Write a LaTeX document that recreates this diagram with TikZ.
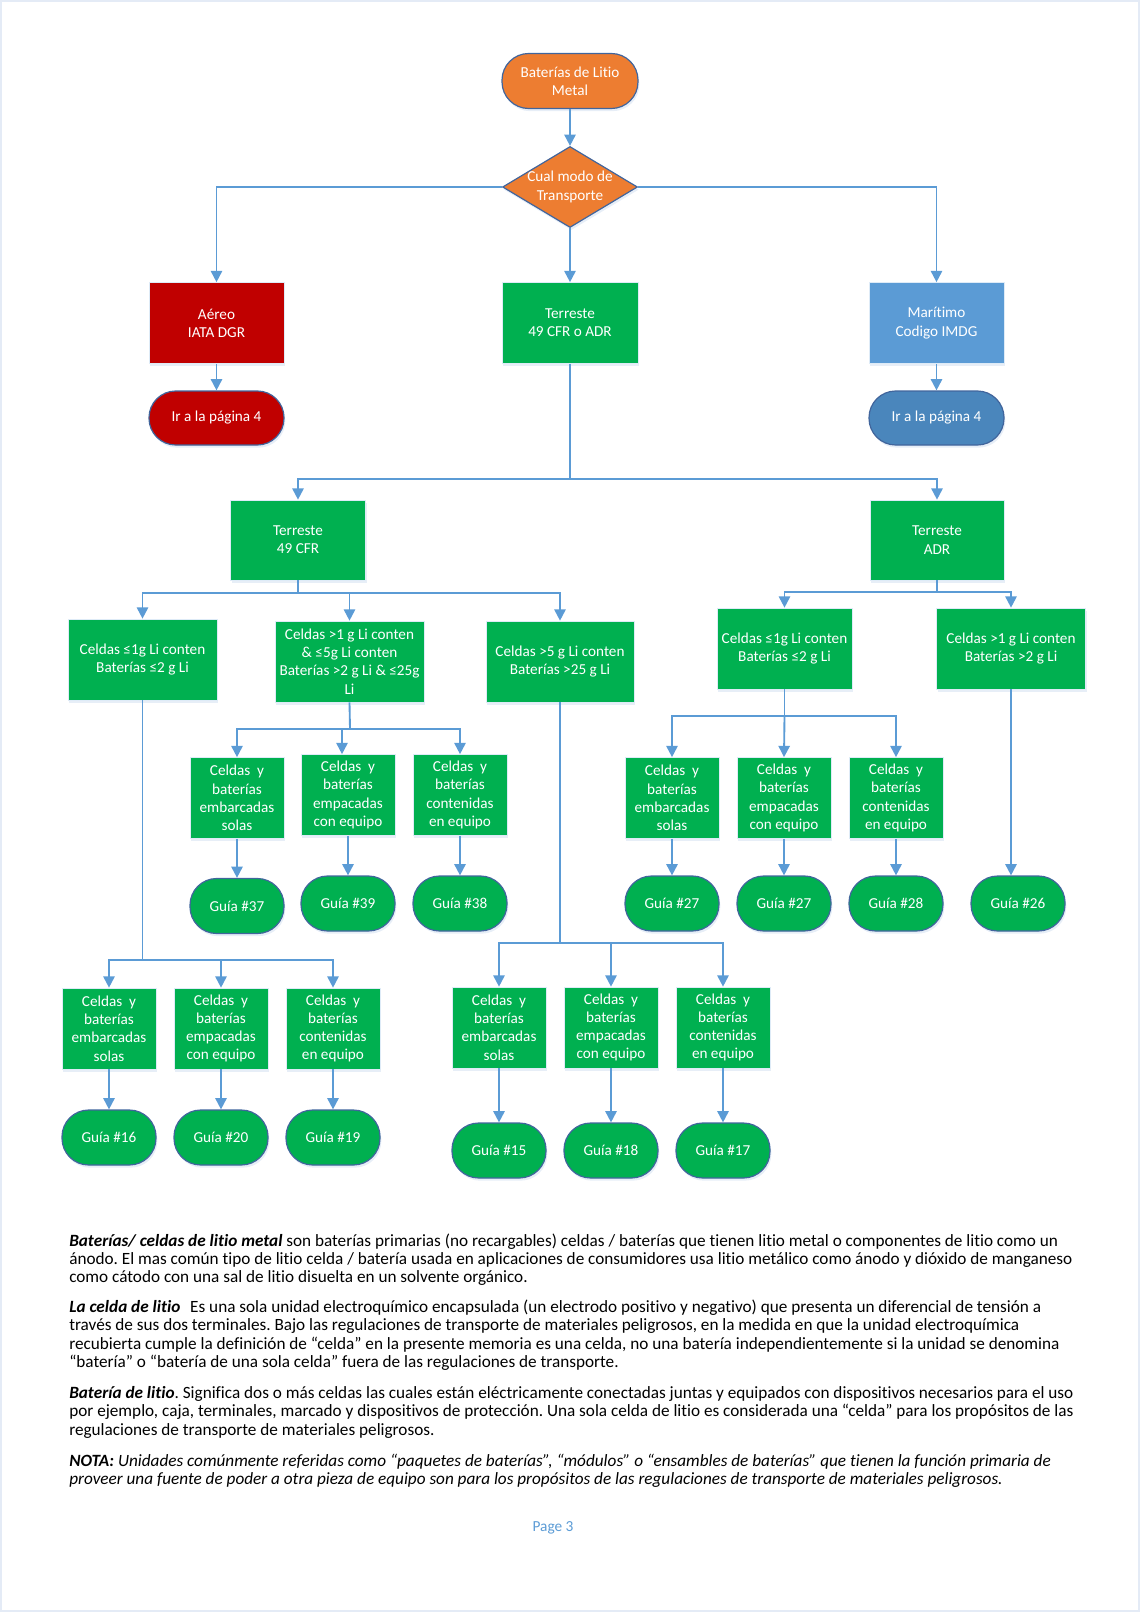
\documentclass[tikz,border=0pt]{standalone}
\usepackage{fontspec}
\setmainfont{Carlito}[Ligatures={NoCommon}]
\usetikzlibrary{arrows.meta,shapes.geometric,shadows}
\definecolor{cOr}{HTML}{ED7D31}
\definecolor{cGr}{HTML}{00B050}
\definecolor{cRd}{HTML}{C00000}
\definecolor{cBl}{HTML}{5B9BD5}
\definecolor{cDb}{HTML}{4A86BC}
\definecolor{cBd}{HTML}{41659C}
\definecolor{cLn}{HTML}{5B9BD5}
\definecolor{cSh}{HTML}{DDE7F4}
\definecolor{cFr}{HTML}{E4EBF6}
\frenchspacing
\begin{document}
\begin{tikzpicture}[x=0.75pt,y=-0.75pt,
  sz/.style 2 args={minimum width=#1*0.75pt, minimum height=#2*0.75pt},
  nfont/.style={font=\fontsize{11.4}{13.7}\selectfont},
  shad/.style={drop shadow={shadow xshift=1pt, shadow yshift=-2pt, fill=cSh, opacity=0.7}},
  box/.style={rectangle, draw=white!80!cBl, line width=0.5pt, text=white, align=center, inner sep=0pt, nfont, shad},
  term/.style={rectangle, rounded corners=20pt, draw=cBd, line width=0.9pt, text=white, align=center, inner sep=0pt, nfont, shad},
  arr/.style={draw=cLn, line width=1.4pt, -{Triangle[width=8.5pt,length=8.5pt]}},
  ln/.style={draw=cLn, line width=1.4pt},
  body/.style={anchor=base west, inner sep=0pt, font=\fontsize{12.9}{13.7}\selectfont}
]
\useasboundingbox (0,0) rectangle (1140,1612);
\draw[cFr, line width=1.5pt] (1,1) rectangle (1139,1611);

% top level
\node[term, fill=cOr, sz={136}{55}] (top) at (570,81) {Baterías de Litio\\Metal};
\node[diamond, fill=cOr, draw=cBd, line width=0.9pt, inner sep=0pt, sz={135}{81}, shad] (dia) at (570,187) {};
\node[text=white, align=center, inner sep=0pt, nfont] (diat) at (570,187) {Cual modo de\\Transporte};

\node[box, fill=cRd, sz={135}{81}] (aereo) at (216.5,323) {Aéreo\\IATA DGR};
\node[box, fill=cGr, sz={136}{81}] (terr) at (570,323) {Terreste\\49 CFR o ADR};
\node[box, fill=cBl, sz={135}{81}] (mar) at (936.5,323) {Marítimo\\Codigo IMDG};
\node[term, fill=cRd, sz={135}{54}] (ir1) at (216.5,418) {Ir a la página 4};
\node[term, fill=cDb, sz={135}{54}] (ir2) at (936.5,418) {Ir a la página 4};

\node[box, fill=cGr, sz={135}{80}] (cfr) at (298,540) {Terreste\\49 CFR};
\node[box, fill=cGr, sz={134}{80}] (adr) at (937,540) {Terreste\\ADR};

\node[box, fill=cGr, sz={149}{81}] (c1) at (142.5,659.5) {Celdas ≤1g Li conten\\Baterías ≤2 g Li};
\node[box, fill=cGr, sz={149}{81}] (c2) at (349.5,661.5) {Celdas >1 g Li conten\\\& ≤5g Li conten\\Baterías >2 g Li \& ≤25g\\Li};
\node[box, fill=cGr, sz={148}{81}] (c3) at (560,661.5) {Celdas >5 g Li conten\\Baterías >25 g Li};
\node[box, fill=cGr, sz={135}{81}] (a1) at (784.5,648.5) {Celdas ≤1g Li conten\\Baterías ≤2 g Li};
\node[box, fill=cGr, sz={149}{81}] (a2) at (1011,648.5) {Celdas >1 g Li conten\\Baterías >2 g Li};

% second level boxes
\node[box, fill=cGr, sz={94}{81}] (b1) at (237,798) {Celdas\ \ y\\baterías\\embarcadas\\solas};
\node[box, fill=cGr, sz={94}{81}] (b2) at (348,795) {Celdas\ \ y\\baterías\\empacadas\\con equipo};
\node[box, fill=cGr, sz={94}{81}] (b3) at (460,795) {Celdas\ \ y\\baterías\\contenidas\\en equipo};
\node[term, fill=cGr, sz={94}{55}] (g37) at (237,906) {Guía \#37};
\node[term, fill=cGr, sz={94}{55}] (g39) at (348,903.5) {Guía \#39};
\node[term, fill=cGr, sz={94}{55}] (g38) at (460,903.5) {Guía \#38};

\node[box, fill=cGr, sz={94}{81}] (d1) at (672,798) {Celdas\ \ y\\baterías\\embarcadas\\solas};
\node[box, fill=cGr, sz={94}{81}] (d2) at (784,798) {Celdas\ \ y\\baterías\\empacadas\\con equipo};
\node[box, fill=cGr, sz={94}{81}] (d3) at (896,798) {Celdas\ \ y\\baterías\\contenidas\\en equipo};
\node[term, fill=cGr, sz={94}{55}] (g27a) at (672,903.5) {Guía \#27};
\node[term, fill=cGr, sz={94}{55}] (g27b) at (784,903.5) {Guía \#27};
\node[term, fill=cGr, sz={94}{55}] (g28) at (896,903.5) {Guía \#28};
\node[term, fill=cGr, sz={94}{55}] (g26) at (1018,903.5) {Guía \#26};

\node[box, fill=cGr, sz={94}{81}] (e1) at (109,1028.5) {Celdas\ \ y\\baterías\\embarcadas\\solas};
\node[box, fill=cGr, sz={94}{81}] (e2) at (221,1028.5) {Celdas\ \ y\\baterías\\empacadas\\con equipo};
\node[box, fill=cGr, sz={94}{81}] (e3) at (333,1028.5) {Celdas\ \ y\\baterías\\contenidas\\en equipo};
\node[term, fill=cGr, sz={94}{55}] (g16) at (109,1137.5) {Guía \#16};
\node[term, fill=cGr, sz={94}{55}] (g20) at (221,1137.5) {Guía \#20};
\node[term, fill=cGr, sz={94}{55}] (g19) at (333,1137.5) {Guía \#19};

\node[box, fill=cGr, sz={94}{81}] (f1) at (499,1027.5) {Celdas\ \ y\\baterías\\embarcadas\\solas};
\node[box, fill=cGr, sz={94}{81}] (f2) at (611,1027.5) {Celdas\ \ y\\baterías\\empacadas\\con equipo};
\node[box, fill=cGr, sz={94}{81}] (f3) at (723,1027.5) {Celdas\ \ y\\baterías\\contenidas\\en equipo};
\node[term, fill=cGr, sz={94}{55}] (g15) at (499,1150.5) {Guía \#15};
\node[term, fill=cGr, sz={94}{55}] (g18) at (611,1150.5) {Guía \#18};
\node[term, fill=cGr, sz={94}{55}] (g17) at (723,1150.5) {Guía \#17};

% junction coordinates
\coordinate (j1) at (570,479);
\coordinate (j2) at (298,593);
\coordinate (j3) at (937,592);
\coordinate (j4) at (350,729);
\coordinate (j4b) at (342,729);
\coordinate (j5) at (784.5,716);
\coordinate (j6) at (142.5,960);
\coordinate (j7) at (560,943);

% connectors
\draw[arr] (top) -- (dia);
\draw[arr] (dia.west) -| (aereo.north);
\draw[arr] (dia.east) -| (mar.north);
\draw[arr] (dia.south) -- (terr.north);
\draw[arr] (aereo) -- (ir1);
\draw[arr] (mar) -- (ir2);

\draw[ln] (terr.south) -- (j1);
\draw[arr] (j1) -| (cfr.north);
\draw[arr] (j1) -| (adr.north);

\draw[ln] (cfr.south) -- (j2);
\draw[arr] (j2) -| (c1.north);
\draw[arr] (j2) -| (c3.north);
\draw[arr] (j2 -| c2.north) -- (c2.north);

\draw[ln] (adr.south) -- (j3);
\draw[arr] (j3) -| (a1.north);
\draw[arr] (j3) -| (a2.north);

\draw[ln] (c2.south) -- (j4);
\draw[arr] (j4) -| (b1.north);
\draw[arr] (j4) -| (b3.north);
\draw[arr] (j4b) -- (j4b |- b2.north);
\draw[arr] (b1) -- (g37);
\draw[arr] (b2) -- (g39);
\draw[arr] (b3) -- (g38);

\draw[ln] (a1.south) -- (j5);
\draw[arr] (j5) -| (d1.north);
\draw[arr] (j5) -| (d3.north);
\draw[arr] (j5) -- (d2.north);
\draw[arr] (d1) -- (g27a);
\draw[arr] (d2) -- (g27b);
\draw[arr] (d3) -- (g28);
\draw[arr] (a2.south) -- (a2.south |- g26.north);

\draw[ln] (c1.south) -- (j6);
\draw[arr] (j6) -| (e1.north);
\draw[arr] (j6) -| (e3.north);
\draw[arr] (j6 -| e2.north) -- (e2.north);
\draw[arr] (e1) -- (g16);
\draw[arr] (e2) -- (g20);
\draw[arr] (e3) -- (g19);

\draw[ln] (c3.south) -- (j7);
\draw[arr] (j7) -| (f1.north);
\draw[arr] (j7) -| (f3.north);
\draw[arr] (j7 -| f2.north) -- (f2.north);
\draw[arr] (f1) -- (g15);
\draw[arr] (f2) -- (g18);
\draw[arr] (f3) -- (g17);

% body text
\node[body] (t1) at (69,1246) {\textbf{\textit{Baterías/ celdas de litio metal}} son baterías primarias (no recargables) celdas / baterías que tienen litio metal o componentes de litio como un};
\node[body] (t2) at (69,1264.3) {ánodo. El mas común tipo de litio celda / batería usada en aplicaciones de consumidores usa litio metálico como ánodo y dióxido de manganeso};
\node[body] (t3) at (69,1282.6) {como cátodo con una sal de litio disuelta en un solvente orgánico.};

\node[body] (t4) at (69,1312.3) {\textbf{\textit{La celda de litio}}\hspace{0.35em} Es una sola unidad electroquímico encapsulada (un electrodo positivo y negativo) que presenta un diferencial de tensión a};
\node[body] (t5) at (69,1330.6) {través de sus dos terminales. Bajo las regulaciones de transporte de materiales peligrosos, en la medida en que la unidad electroquímica};
\node[body] (t6) at (69,1349) {recubierta cumple la definición de “celda” en la presente memoria es una celda, no una batería independientemente si la unidad se denomina};
\node[body] (t7) at (69,1367.3) {“batería” o “batería de una sola celda” fuera de las regulaciones de transporte.};

\node[body] (t8) at (69,1398) {\textbf{\textit{Batería de litio}}. Significa dos o más celdas las cuales están eléctricamente conectadas juntas y equipados con dispositivos necesarios para el uso};
\node[body] (t9) at (69,1416.5) {por ejemplo, caja, terminales, marcado y dispositivos de protección. Una sola celda de litio es considerada una “celda” para los propósitos de las};
\node[body] (t10) at (69,1435.5) {regulaciones de transporte de materiales peligrosos.};

\node[body] (t11) at (69,1466) {\textbf{\textit{NOTA:}} \textit{Unidades comúnmente referidas como “paquetes de baterías”, “módulos” o “ensambles de baterías” que tienen la función primaria de}};
\node[body] (t12) at (69,1484.3) {\textit{proveer una fuente de poder a otra pieza de equipo son para los propósitos de las regulaciones de transporte de materiales peligrosos.}};

\node[text=cBl, inner sep=0pt, font=\fontsize{11.5}{13}\selectfont] (pg) at (553,1528) {Page 3};
\end{tikzpicture}
\end{document}
